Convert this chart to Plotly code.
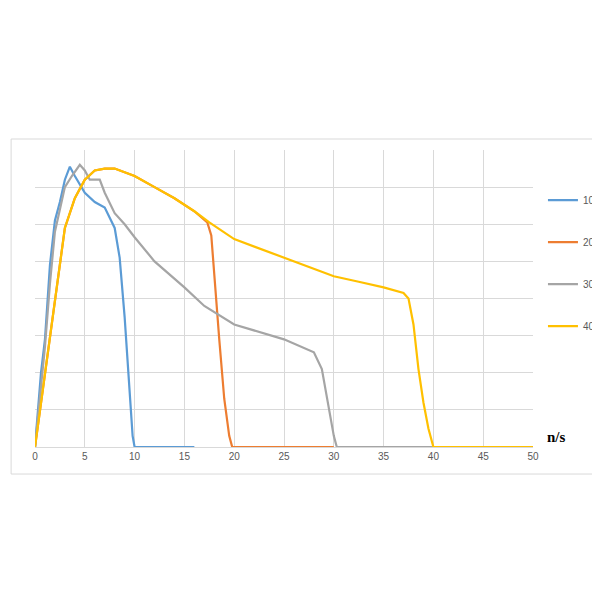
import plotly.graph_objects as go

x10 = [0, 0.3, 0.6, 1, 1.5, 2, 2.5, 3, 3.5, 4, 5, 6, 7, 8, 8.5, 9, 9.5, 9.8, 10, 16]
y10 = [0, 0.9, 2.0, 2.9, 4.9, 6.1, 6.6, 7.2, 7.55, 7.3, 6.85, 6.6, 6.45, 5.9, 5.1, 3.5, 1.3, 0.3, 0, 0]

x20 = [0, 0.5, 1, 2, 3, 4, 5, 6, 7, 8, 10, 12, 14, 16, 17.3, 17.7, 18, 18.5, 19, 19.5, 19.8, 30]
y20 = [0, 1.0, 2.0, 4.0, 5.9, 6.7, 7.2, 7.45, 7.5, 7.5, 7.3, 7.0, 6.7, 6.35, 6.05, 5.7, 4.6, 2.9, 1.3, 0.3, 0, 0]

x30 = [0, 0.3, 0.6, 1, 1.5, 2, 3, 3.7, 4.5, 5, 5.5, 6.5, 7, 8, 9, 10, 12, 15, 17, 20, 25, 28, 28.8, 29.5, 30, 30.3, 40]
y30 = [0, 0.8, 1.8, 2.7, 4.4, 5.8, 7.0, 7.3, 7.6, 7.45, 7.2, 7.2, 6.85, 6.3, 6.0, 5.65, 5.0, 4.3, 3.8, 3.3, 2.9, 2.55, 2.1, 1.05, 0.3, 0, 0]

x40 = [0, 0.5, 1, 2, 3, 4, 5, 6, 7, 8, 10, 12, 14, 16, 17.5, 20, 22.5, 25, 27.5, 30, 32.5, 35, 37, 37.5, 38, 38.5, 39, 39.5, 40, 50]
y40 = [0, 1.0, 2.0, 4.0, 5.9, 6.7, 7.2, 7.45, 7.5, 7.5, 7.3, 7.0, 6.7, 6.35, 6.05, 5.6, 5.35, 5.1, 4.85, 4.6, 4.45, 4.3, 4.15, 4.0, 3.3, 2.1, 1.2, 0.5, 0, 0]

names = ["10ns", "20ns", "30ns", "40ns"]
colors = ["#5B9BD5", "#ED7D31", "#A5A5A5", "#FFC000"]

fig = go.Figure()
for xs, ys, n, c in zip([x10, x20, x30, x40], [y10, y20, y30, y40], names, colors):
    fig.add_trace(go.Scatter(x=xs, y=ys, name=n, mode="lines", legendgroup=n,
                             line=dict(color=c, width=2.2)))

fig.update_layout(
    width=600, height=600, plot_bgcolor="white", paper_bgcolor="white",
    margin=dict(l=27, r=75, t=142, b=161, autoexpand=False),
    font=dict(family="Liberation Sans", color="#595959", size=10),
    legend=dict(x=1.02, y=0.88, yanchor="top", tracegroupgap=23, font=dict(size=10),
                bgcolor="rgba(0,0,0,0)"),
    xaxis=dict(range=[0, 50], tickvals=list(range(0, 51, 5)), showgrid=True, gridcolor="#D9D9D9",
               zeroline=False, showline=True, linecolor="#D9D9D9", ticks=""),
    yaxis=dict(range=[0, 8], dtick=1, showgrid=True, gridcolor="#D9D9D9", zeroline=False,
               showticklabels=False),
    shapes=[dict(type="rect", xref="paper", yref="paper", x0=-0.048, x1=1.145, y0=-0.091, y1=1.037,
                 line=dict(color="#D9D9D9", width=1))],
    annotations=[dict(text="<b>n/s</b>", xref="paper", yref="paper", x=1.07, y=0.0, showarrow=False,
                      font=dict(family="Liberation Serif", size=15, color="black"))],
)
fig.write_html("out.html")
